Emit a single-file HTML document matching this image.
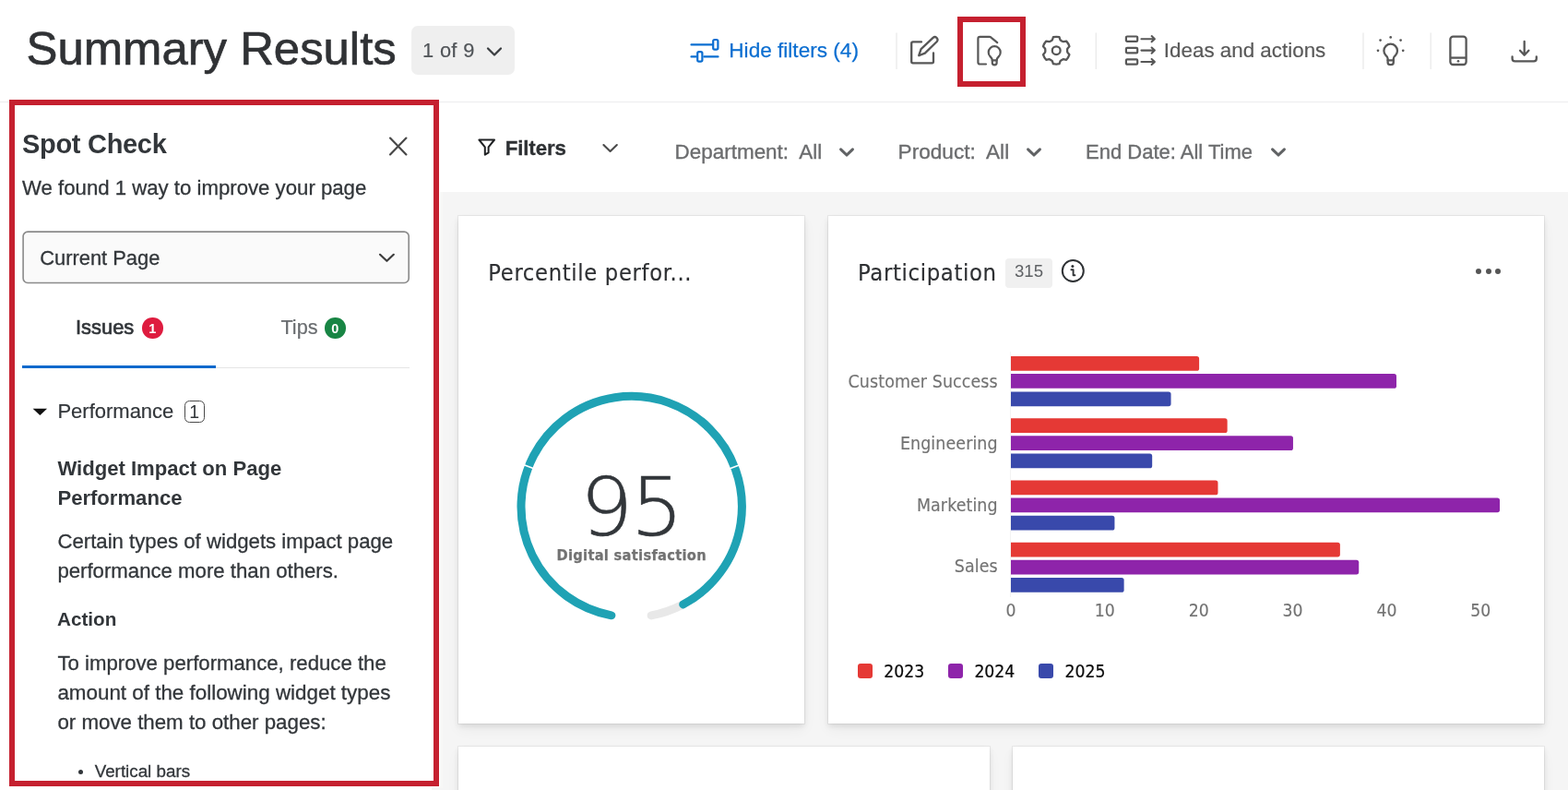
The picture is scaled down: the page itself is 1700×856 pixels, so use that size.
<!DOCTYPE html>
<html lang="en">
<head>
<meta charset="utf-8">
<title>Summary Results</title>
<style>
*{box-sizing:content-box;margin:0;padding:0}
html,body{width:1700px;height:856px;overflow:hidden;background:#fff}
body{font-family:"Liberation Sans",sans-serif;color:#32363a;position:relative}
.a{position:absolute}
.t{position:absolute;white-space:nowrap;line-height:1}
svg{overflow:visible}
header,nav,main,aside{display:block;position:static}
.dv{font-family:"DejaVu Sans Condensed","DejaVu Sans","Liberation Sans",sans-serif}
.dvl{font-family:"DejaVu Sans Light","DejaVu Sans","Liberation Sans",sans-serif}
</style>
</head>
<body>
<header>
<div class="a" style="left:0;top:0;width:1700px;height:110px;background:#fff"></div>
<div class="a" style="left:0;top:110px;width:1700px;height:1px;background:#ececee"></div>
<div class="t" style="top:28px;font-size:50.85px;color:#303235;left:28.5px;-webkit-text-stroke:0.7px #303235;">Summary Results</div>
<div class="a" style="left:446px;top:28px;width:112px;height:53px;background:#efefef;border-radius:7px;"></div>
<div class="t" style="top:44px;font-size:21.8px;color:#515559;letter-spacing:0.35px;left:458px;-webkit-text-stroke:0.2px #515559;">1 of 9</div>
<svg class="a" style="left:526px;top:47.7px;" width="20" height="16" viewBox="0 0 20 16" fill="none"><path d="M3 4.5 L10 11.5 L17 4.5" stroke="#3b3e41" stroke-width="2.3" stroke-linecap="round" stroke-linejoin="round"/></svg>
<svg class="a" style="left:746px;top:38px;" width="36" height="32" viewBox="0 0 36 32" fill="none"><g stroke="#0b6ed1" stroke-width="2.2" stroke-linecap="round" stroke-linejoin="round"><path d="M3.5 10.4 H26"/><path d="M3.5 23.4 H8.6"/><path d="M17.4 23.4 H32.5"/><rect x="27.2" y="5" width="5.2" height="10.6" rx="1.6"/><rect x="10.2" y="18.2" width="5.2" height="10.4" rx="1.6"/></g></svg>
<div class="t" style="top:44px;font-size:22.6px;color:#0b6ed1;left:790.3px;-webkit-text-stroke:0.25px #0b6ed1;">Hide filters (4)</div>
<svg class="a" style="left:0;top:0" width="1700" height="110" viewBox="0 0 1700 110" fill="none"><path d="M972.0 35.5 V75" stroke="#ebebeb" stroke-width="1.4"/><path d="M1188.3 35.5 V75" stroke="#ebebeb" stroke-width="1.4"/><path d="M1478.0 35.5 V75" stroke="#ebebeb" stroke-width="1.4"/><path d="M1551.2 35.5 V75" stroke="#ebebeb" stroke-width="1.4"/></svg>
<svg class="a" style="left:983px;top:34px;" width="40" height="40" viewBox="0 0 40 40" fill="none"><g stroke="#575757" stroke-width="2.3" stroke-linecap="round" stroke-linejoin="round"><path d="M16 11.4 H6.8 Q5.2 11.4 5.2 13 V32.8 Q5.2 34.4 6.8 34.4 H27.4 Q29 34.4 29 32.8 V23.4"/><path d="M13.2 26.2 L15.6 19.2 L28.6 6.8 Q30.6 5.2 32.6 7 Q34.4 9 32.8 11 L19.8 23.6 Z"/></g></svg>
<div class="a" style="left:1038px;top:18px;width:74px;height:76px;border:6px solid #c5202f;box-sizing:border-box"></div>
<svg class="a" style="left:1054px;top:34px;" width="40" height="40" viewBox="0 0 40 40" fill="none"><g stroke="#575757" stroke-width="2.2" stroke-linecap="round" stroke-linejoin="round"><path d="M15 35.5 H8.4 Q6.4 35.5 6.4 33.5 V7.9 Q6.4 5.9 8.4 5.9 H18.6 Q19.8 5.9 20.8 6.8 L27.2 12.2"/><path d="M21.8 31.4 Q21.8 29.4 19.3 26.9 A6.5 6.5 0 1 1 29.1 26.9 Q26.6 29.4 26.6 31.4"/><path d="M21.8 31.4 H26.6 V34 Q26.6 36.3 24.2 36.3 Q21.8 36.3 21.8 34 Z"/></g></svg>
<svg class="a" style="left:1125px;top:34px;" width="40" height="40" viewBox="0 0 40 40" fill="none"><g stroke="#575757" stroke-width="2.3" stroke-linejoin="round" stroke-linecap="round"><path d="M15.83 9.31 L16.95 6.16 A14.90 14.90 0 0 1 23.45 6.16 L24.57 9.31 A9.76 9.76 0 0 0 27.88 11.22 L31.17 10.61 A14.90 14.90 0 0 1 34.42 16.24 L32.25 18.79 A9.76 9.76 0 0 0 32.25 22.61 L34.42 25.16 A14.90 14.90 0 0 1 31.17 30.79 L27.88 30.18 A9.76 9.76 0 0 0 24.57 32.09 L23.45 35.24 A14.90 14.90 0 0 1 16.95 35.24 L15.83 32.09 A9.76 9.76 0 0 0 12.52 30.18 L9.23 30.79 A14.90 14.90 0 0 1 5.98 25.16 L8.15 22.61 A9.76 9.76 0 0 0 8.15 18.79 L5.98 16.24 A14.90 14.90 0 0 1 9.23 10.61 L12.52 11.22 A9.76 9.76 0 0 0 15.83 9.31 Z"/><circle cx="20.2" cy="20.7" r="4.4"/></g></svg>
<svg class="a" style="left:1218.8px;top:34.3px;" width="38" height="40" viewBox="0 0 38 40" fill="none"><g stroke="#575757" stroke-width="2.2" stroke-linecap="round" stroke-linejoin="round"><rect x="1.9" y="5.499999999999999" width="12.3" height="5.4" rx="1.1"/><path d="M18.4 8.2 H32.8 M29.6 5.1 L32.9 8.2 L29.6 11.299999999999999" stroke-width="2.05"/><rect x="1.9" y="17.900000000000002" width="12.3" height="5.4" rx="1.1"/><path d="M18.4 20.6 H32.8 M29.6 17.5 L32.9 20.6 L29.6 23.700000000000003" stroke-width="2.05"/><rect x="1.9" y="30.3" width="12.3" height="5.4" rx="1.1"/><path d="M18.4 33 H32.8 M29.6 29.9 L32.9 33 L29.6 36.1" stroke-width="2.05"/></g></svg>
<div class="t" style="top:44px;font-size:22.4px;color:#595959;left:1261.8px;-webkit-text-stroke:0.2px #595959;">Ideas and actions</div>
<svg class="a" style="left:1488px;top:34px;" width="40" height="40" viewBox="0 0 40 40" fill="none"><g stroke="#575757" stroke-width="2.3" stroke-linecap="round" stroke-linejoin="round"><path d="M16.6 31.2 V29.4 Q16.6 28 14.6 26.2 Q12.4 24 12.4 21 A7.3 7.3 0 0 1 27 21 Q27 24 24.8 26.2 Q22.8 28 22.8 29.4 V31.2"/><path d="M16.6 31.3 H22.8 V33.4 Q22.8 36.1 19.7 36.1 Q16.6 36.1 16.6 33.4 Z"/></g><g fill="#575757"><circle cx="19.7" cy="6.4" r="1.35"/><circle cx="8.6" cy="9.6" r="1.35"/><circle cx="30.6" cy="9.6" r="1.35"/><circle cx="6" cy="20.8" r="1.35"/><circle cx="33.2" cy="20.8" r="1.35"/></g></svg>
<svg class="a" style="left:1561.6px;top:34px;" width="40" height="40" viewBox="0 0 40 40" fill="none"><g stroke="#575757" stroke-width="2.3" stroke-linejoin="round"><rect x="10.4" y="5.6" width="17.2" height="30.4" rx="3"/><path d="M10.4 28.6 H27.6"/></g><circle cx="19" cy="32.2" r="1.3" fill="#575757"/></svg>
<svg class="a" style="left:1632px;top:34px;" width="40" height="40" viewBox="0 0 40 40" fill="none"><g stroke="#575757" stroke-width="2.3" stroke-linecap="round" stroke-linejoin="round"><path d="M20.7 11 V25.4 M16 20.8 L20.7 25.7 L25.4 20.8"/><path d="M7.6 27.4 V29.6 Q7.6 32.4 10.4 32.4 H31 Q33.8 32.4 33.8 29.6 V27.4"/></g></svg>
</header>
<nav>
<div class="a" style="left:476px;top:111px;width:1224px;height:96.5px;background:#fff;"></div>
<svg class="a" style="left:514px;top:146px;" width="28" height="28" viewBox="0 0 28 28" fill="none"><path d="M5.4 5.5 H22 L15.6 13.4 V19.4 L11.8 21.6 V13.4 Z" stroke="#1f2123" stroke-width="2" stroke-linejoin="round"/></svg>
<div class="t" style="top:150px;font-size:22.3px;color:#2e3134;font-weight:700;letter-spacing:-0.15px;left:547.8px;-webkit-text-stroke:0.3px #2e3134;">Filters</div>
<svg class="a" style="left:650px;top:150px;" width="24" height="20" viewBox="0 0 24 20" fill="none"><path d="M4.4 7 L11.6 14 L18.8 7" stroke="#4a4a4a" stroke-width="2.1" stroke-linecap="round" stroke-linejoin="round"/></svg>
<div class="t" style="top:154px;font-size:22.45px;color:#6b6c6e;left:731.6px;white-space:pre;-webkit-text-stroke:0.35px #6b6c6e;">Department:  All</div>
<div class="t" style="top:154px;font-size:22.6px;color:#6b6c6e;left:973.6px;white-space:pre;-webkit-text-stroke:0.35px #6b6c6e;">Product:  All</div>
<div class="t" style="top:154px;font-size:22px;color:#6b6c6e;left:1177px;white-space:pre;-webkit-text-stroke:0.35px #6b6c6e;">End Date: All Time</div>
<svg class="a" style="left:905.8px;top:155px;" width="24" height="20" viewBox="0 0 24 20" fill="none"><path d="M5.6 6.8 L12 13 L18.4 6.8" stroke="#606264" stroke-width="3.1" stroke-linecap="round" stroke-linejoin="round"/></svg>
<svg class="a" style="left:1109.4px;top:155px;" width="24" height="20" viewBox="0 0 24 20" fill="none"><path d="M5.6 6.8 L12 13 L18.4 6.8" stroke="#606264" stroke-width="3.1" stroke-linecap="round" stroke-linejoin="round"/></svg>
<svg class="a" style="left:1373.8px;top:155px;" width="24" height="20" viewBox="0 0 24 20" fill="none"><path d="M5.6 6.8 L12 13 L18.4 6.8" stroke="#606264" stroke-width="3.1" stroke-linecap="round" stroke-linejoin="round"/></svg>
</nav>
<main>
<div class="a" style="left:468px;top:207.5px;width:1232px;height:649px;background:#f5f5f5;"></div>
<div class="a" style="left:468px;top:111px;width:9px;height:742px;background:#fff;"></div>
<div class="a" style="left:477px;top:207.5px;width:3px;height:646px;background:#f7f7f6;"></div>
<div class="a" style="left:497px;top:234px;width:375px;height:550px;background:#fff;box-shadow:0 0 0 1px rgba(0,0,0,.05),0 3px 6px rgba(0,0,0,.09),0 7px 14px rgba(0,0,0,.045);"></div>
<div class="a" style="left:898px;top:234px;width:776px;height:550px;background:#fff;box-shadow:0 0 0 1px rgba(0,0,0,.05),0 3px 6px rgba(0,0,0,.09),0 7px 14px rgba(0,0,0,.045);"></div>
<div class="a" style="left:497px;top:808.5px;width:576px;height:60px;background:#fff;box-shadow:0 0 0 1px rgba(0,0,0,.05),0 3px 6px rgba(0,0,0,.09),0 7px 14px rgba(0,0,0,.045);"></div>
<div class="a" style="left:1098px;top:808.5px;width:576px;height:60px;background:#fff;box-shadow:0 0 0 1px rgba(0,0,0,.05),0 3px 6px rgba(0,0,0,.09),0 7px 14px rgba(0,0,0,.045);"></div>
<div class="t dv" style="top:283px;font-size:25.2px;color:#2e3033;letter-spacing:0.7px;left:529.3px;-webkit-text-stroke:0.15px #2e3033;">Percentile perfor...</div>
<svg class="a" style="left:0;top:0" width="1700" height="856" viewBox="0 0 1700 856" fill="none"><path d="M739.97 655.28 A119.7 119.7 0 0 1 706.10 666.87" stroke="#e8e8e8" stroke-width="9.0" stroke-linecap="round"/><path d="M662.89 666.80 A119.7 119.7 0 1 1 740.71 654.89" stroke="#1fa2b4" stroke-width="9.0" stroke-linecap="round"/><path d="M578.77 507.80 L567.59 503.44" stroke="#fff" stroke-width="1.6"/><path d="M790.71 507.98 L801.89 503.64" stroke="#fff" stroke-width="1.6"/></svg>
<div class="t dvl" style="top:507px;font-size:86.6px;color:#32363a;font-weight:200;letter-spacing:-2.6px;left:384.9px;width:600px;text-align:center;-webkit-text-stroke:0.6px #32363a;text-indent:-2.6px;transform:scaleX(1.04);transform-origin:50% 50%;">95</div>
<div class="t dv" style="top:594px;font-size:16.3px;color:#727272;font-weight:700;letter-spacing:0.3px;left:384.6px;width:600px;text-align:center;text-indent:0.3px;-webkit-text-stroke:0.25px #727272;">Digital satisfaction</div>
<div class="t dv" style="top:283px;font-size:25.4px;color:#2e3033;letter-spacing:0.63px;left:930px;-webkit-text-stroke:0.15px #2e3033;">Participation</div>
<div class="a" style="left:1089.5px;top:279.5px;width:51px;height:32px;background:#f0f0f0;border-radius:4px;"></div>
<div class="t" style="top:285px;font-size:18.6px;color:#5f6265;left:1100px;">315</div>
<svg class="a" style="left:1149px;top:279px;" width="30" height="30" viewBox="0 0 30 30" fill="none"><circle cx="14.3" cy="14.5" r="11.5" stroke="#2f3235" stroke-width="2"/><circle cx="13.9" cy="9.6" r="1.5" fill="#2f3235"/><path d="M12.4 13.2 H14.6 V19.2 H16.4" stroke="#2f3235" stroke-width="1.9" stroke-linecap="round" stroke-linejoin="round"/></svg>
<div class="a" style="left:1600.4px;top:291.2px;width:6px;height:6px;background:#555;border-radius:50%;"></div>
<div class="a" style="left:1610.6px;top:291.2px;width:6px;height:6px;background:#555;border-radius:50%;"></div>
<div class="a" style="left:1620.8px;top:291.2px;width:6px;height:6px;background:#555;border-radius:50%;"></div>
<div class="t dv" style="top:404px;font-size:19.4px;color:#737373;letter-spacing:0.1px;right:618.3px;-webkit-text-stroke:0.15px #737373;">Customer Success</div>
<div class="t dv" style="top:471px;font-size:19.4px;color:#737373;letter-spacing:0.1px;right:618.3px;-webkit-text-stroke:0.15px #737373;">Engineering</div>
<div class="t dv" style="top:538px;font-size:19.4px;color:#737373;letter-spacing:0.1px;right:618.3px;-webkit-text-stroke:0.15px #737373;">Marketing</div>
<div class="t dv" style="top:604px;font-size:19.4px;color:#737373;letter-spacing:0.1px;right:618.3px;-webkit-text-stroke:0.15px #737373;">Sales</div>
<svg class="a" style="left:0;top:0" width="1700" height="856" viewBox="0 0 1700 856"><path d="M1095.5 381 V647" stroke="#f3f3f3" stroke-width="1"/><path d="M1096 386.10 H1297.50 Q1300.10 386.10 1300.10 388.70 V399.25 Q1300.10 401.85 1297.50 401.85 H1096 Z" fill="#e53935"/><path d="M1096 405.05 H1511.39 Q1513.99 405.05 1513.99 407.65 V418.20 Q1513.99 420.80 1511.39 420.80 H1096 Z" fill="#8e24aa"/><path d="M1096 424.40 H1266.95 Q1269.55 424.40 1269.55 427.00 V437.55 Q1269.55 440.15 1266.95 440.15 H1096 Z" fill="#3949ab"/><path d="M1096 453.30 H1328.06 Q1330.65 453.30 1330.65 455.90 V466.45 Q1330.65 469.05 1328.06 469.05 H1096 Z" fill="#e53935"/><path d="M1096 472.25 H1399.35 Q1401.95 472.25 1401.95 474.85 V485.40 Q1401.95 488.00 1399.35 488.00 H1096 Z" fill="#8e24aa"/><path d="M1096 491.60 H1246.58 Q1249.17 491.60 1249.17 494.20 V504.75 Q1249.17 507.35 1246.58 507.35 H1096 Z" fill="#3949ab"/><path d="M1096 520.50 H1317.87 Q1320.47 520.50 1320.47 523.10 V533.65 Q1320.47 536.25 1317.87 536.25 H1096 Z" fill="#e53935"/><path d="M1096 539.45 H1623.42 Q1626.02 539.45 1626.02 542.05 V552.60 Q1626.02 555.20 1623.42 555.20 H1096 Z" fill="#8e24aa"/><path d="M1096 558.80 H1205.84 Q1208.43 558.80 1208.43 561.40 V571.95 Q1208.43 574.55 1205.84 574.55 H1096 Z" fill="#3949ab"/><path d="M1096 587.70 H1450.28 Q1452.88 587.70 1452.88 590.30 V600.85 Q1452.88 603.45 1450.28 603.45 H1096 Z" fill="#e53935"/><path d="M1096 606.65 H1470.64 Q1473.24 606.65 1473.24 609.25 V619.80 Q1473.24 622.40 1470.64 622.40 H1096 Z" fill="#8e24aa"/><path d="M1096 626.00 H1216.02 Q1218.62 626.00 1218.62 628.60 V639.15 Q1218.62 641.75 1216.02 641.75 H1096 Z" fill="#3949ab"/></svg>
<div class="t dv" style="top:652px;font-size:19.2px;color:#737373;left:796.0px;width:600px;text-align:center;-webkit-text-stroke:0.15px #737373;">0</div>
<div class="t dv" style="top:652px;font-size:19.2px;color:#737373;left:897.8499999999999px;width:600px;text-align:center;-webkit-text-stroke:0.15px #737373;">10</div>
<div class="t dv" style="top:652px;font-size:19.2px;color:#737373;left:999.7px;width:600px;text-align:center;-webkit-text-stroke:0.15px #737373;">20</div>
<div class="t dv" style="top:652px;font-size:19.2px;color:#737373;left:1101.55px;width:600px;text-align:center;-webkit-text-stroke:0.15px #737373;">30</div>
<div class="t dv" style="top:652px;font-size:19.2px;color:#737373;left:1203.4px;width:600px;text-align:center;-webkit-text-stroke:0.15px #737373;">40</div>
<div class="t dv" style="top:652px;font-size:19.2px;color:#737373;left:1305.25px;width:600px;text-align:center;-webkit-text-stroke:0.15px #737373;">50</div>
<div class="a" style="left:929.6px;top:718.6px;width:16px;height:16px;background:#e53935;border-radius:3px;"></div>
<div class="t dv" style="top:718px;font-size:19.2px;color:#0a0a0a;left:958.2px;-webkit-text-stroke:0.2px #0a0a0a;">2023</div>
<div class="a" style="left:1027.8px;top:718.6px;width:16px;height:16px;background:#8e24aa;border-radius:3px;"></div>
<div class="t dv" style="top:718px;font-size:19.2px;color:#0a0a0a;left:1056.3999999999999px;-webkit-text-stroke:0.2px #0a0a0a;">2024</div>
<div class="a" style="left:1126px;top:718.6px;width:16px;height:16px;background:#3949ab;border-radius:3px;"></div>
<div class="t dv" style="top:718px;font-size:19.2px;color:#0a0a0a;left:1154.6px;-webkit-text-stroke:0.2px #0a0a0a;">2025</div>
</main>
<aside>
<div class="a" style="left:10px;top:108px;width:466px;height:744px;border:6px solid #c5202f;background:#fff;box-sizing:border-box"></div>
<div class="t" style="top:142px;font-size:29px;color:#32363a;font-weight:700;letter-spacing:-0.3px;left:24px;">Spot Check</div>
<svg class="a" style="left:418px;top:144px;" width="28" height="28" viewBox="0 0 28 28" fill="none"><path d="M5 5.6 L22.4 23.4 M22.4 5.6 L5 23.4" stroke="#484848" stroke-width="2.2" stroke-linecap="round"/></svg>
<div class="t" style="top:193px;font-size:22.2px;color:#32363a;left:24px;-webkit-text-stroke:0.3px #32363a;">We found 1 way to improve your page</div>
<svg class="a" style="left:0px;top:0px;" width="480" height="320" viewBox="0 0 480 320" fill="none"><rect x="25.1" y="251.15" width="418.1" height="55.3" rx="5" fill="#fafafa" stroke="#8a8a8a" stroke-width="1.6"/></svg>
<div class="t" style="top:269px;font-size:21.9px;color:#32363a;left:43.2px;-webkit-text-stroke:0.3px #32363a;">Current Page</div>
<svg class="a" style="left:407px;top:269px;" width="26" height="20" viewBox="0 0 26 20" fill="none"><path d="M5 6.8 L12.4 13.8 L19.8 6.8" stroke="#3d3d3d" stroke-width="2.2" stroke-linecap="round" stroke-linejoin="round"/></svg>
<div class="t" style="top:344px;font-size:21.9px;color:#32363a;left:82px;-webkit-text-stroke:0.7px #32363a;">Issues</div>
<div class="a" style="left:154px;top:344px;width:22.6px;height:22.6px;background:#de1c3f;border-radius:50%;"></div>
<div class="t" style="top:349px;font-size:14.5px;color:#fff;font-weight:700;left:-134.7px;width:600px;text-align:center;">1</div>
<div class="t" style="top:344px;font-size:21.7px;color:#6a6d70;left:304.4px;-webkit-text-stroke:0.2px #6a6d70;">Tips</div>
<div class="a" style="left:352px;top:344px;width:22.6px;height:22.6px;background:#188544;border-radius:50%;"></div>
<div class="t" style="top:349px;font-size:14.5px;color:#fff;font-weight:700;left:63.30000000000001px;width:600px;text-align:center;">0</div>
<div class="a" style="left:24px;top:397.5px;width:420px;height:1px;background:#e5e5e5;"></div>
<div class="a" style="left:24px;top:396px;width:210px;height:3px;background:#0d69cc;"></div>
<svg class="a" style="left:33px;top:438px;" width="20" height="16" viewBox="0 0 20 16" fill="none"><path d="M2.6 4.7 H18.1 L10.35 12.1 Z" fill="#111"/></svg>
<div class="t" style="top:435px;font-size:22px;color:#32363a;left:62.4px;-webkit-text-stroke:0.2px #32363a;">Performance</div>
<div class="a" style="left:199.5px;top:434px;width:22.5px;height:24px;border:1px solid #4a4a4a;border-radius:5.5px;box-sizing:border-box;background:#fff"></div>
<div class="t" style="top:437px;font-size:19.5px;color:#32363a;left:-89.4px;width:600px;text-align:center;">1</div>
<div class="t" style="top:497px;font-size:22.1px;color:#32363a;font-weight:700;left:62.4px;">Widget Impact on Page</div>
<div class="t" style="top:529px;font-size:22.1px;color:#32363a;font-weight:700;left:62.4px;">Performance</div>
<div class="t" style="top:576px;font-size:22.2px;color:#32363a;left:62.4px;-webkit-text-stroke:0.3px #32363a;">Certain types of widgets impact page</div>
<div class="t" style="top:608px;font-size:22.2px;color:#32363a;left:62.4px;-webkit-text-stroke:0.3px #32363a;">performance more than others.</div>
<div class="t" style="top:661px;font-size:20.7px;color:#32363a;font-weight:700;left:62px;">Action</div>
<div class="t" style="top:708px;font-size:22.2px;color:#32363a;left:62.4px;-webkit-text-stroke:0.3px #32363a;">To improve performance, reduce the</div>
<div class="t" style="top:740px;font-size:22.4px;color:#32363a;left:62.4px;-webkit-text-stroke:0.3px #32363a;">amount of the following widget types</div>
<div class="t" style="top:772px;font-size:22.3px;color:#32363a;left:62.4px;-webkit-text-stroke:0.3px #32363a;">or move them to other pages:</div>
<div class="a" style="left:84.6px;top:833.6px;width:5.6px;height:5.6px;background:#32363a;border-radius:50%;"></div>
<div class="t" style="top:827px;font-size:18.8px;color:#32363a;left:102.7px;-webkit-text-stroke:0.3px #32363a;">Vertical bars</div>
<div class="a" style="left:10px;top:846px;width:466px;height:6px;background:#c5202f;"></div>
</aside>
</body>
</html>
